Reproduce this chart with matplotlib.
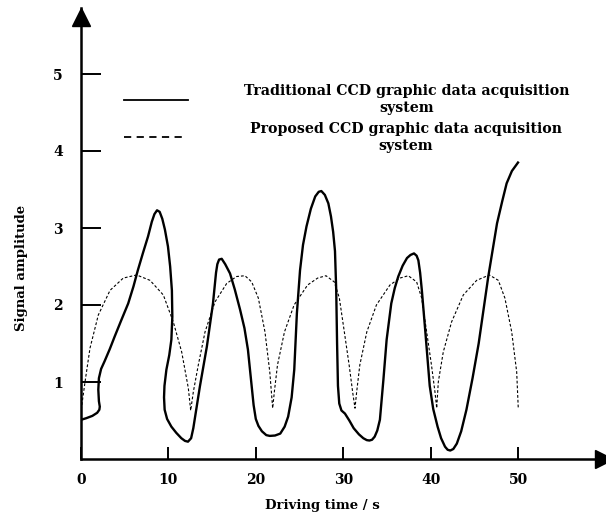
import matplotlib
matplotlib.use("Agg")
import matplotlib.pyplot as plt
from matplotlib.lines import Line2D

plt.rcParams['font.family'] = ['DejaVu Serif']
plt.rcParams['font.weight'] = 'bold'

# Traditional CCD system (solid)
trad_t = [0.03, 0.6, 1.3, 1.85, 2.1, 2.15, 2.05, 1.98, 2.05, 2.3, 2.7, 3.3, 3.85, 4.6, 5.4,
          6.0, 6.5, 7.1, 7.67, 8.1, 8.4, 8.7, 9.0, 9.3, 9.6, 9.95, 10.2, 10.4, 10.45,
          10.34, 10.1, 9.77, 9.55, 9.5, 9.57, 9.85, 10.34, 10.9, 11.48, 11.9, 12.24,
          12.6, 12.85, 13.2, 13.6, 14.0, 14.4, 15.1, 15.45, 15.6, 15.8, 16.1, 16.5,
          17.05, 17.6, 18.2, 18.7, 19.1, 19.5, 19.75, 20.0, 20.3, 20.7, 21.2, 21.6,
          22.2, 22.8, 23.3, 23.7, 24.1, 24.4, 24.7, 25.06, 25.4, 25.8, 26.3, 26.8,
          27.2, 27.5, 27.9, 28.3, 28.6, 28.85, 29.06, 29.2, 29.3, 29.4, 29.55, 29.8,
          30.2, 30.7, 31.2, 31.8, 32.3, 32.7, 33.0, 33.3, 33.6, 33.9, 34.2, 34.6,
          34.97, 35.5, 35.9, 36.3, 36.8, 37.3, 37.7, 38.1, 38.4, 38.6, 38.8, 39.0,
          39.4, 39.9, 40.3, 40.8, 41.2, 41.65, 41.95, 42.25, 42.6, 43.0, 43.5, 44.1,
          44.8, 45.5, 46.6, 47.6, 48.2, 48.7, 49.3, 50.0]
trad_v = [0.51, 0.53, 0.56, 0.6, 0.64, 0.68, 0.75, 0.9, 1.05, 1.17, 1.27, 1.43, 1.59, 1.8, 2.02,
          2.24, 2.45, 2.68, 2.89, 3.08, 3.18, 3.23, 3.21, 3.12, 2.98, 2.76, 2.5, 2.19, 1.85,
          1.55, 1.35, 1.16, 0.95, 0.8, 0.64, 0.52, 0.42, 0.34, 0.27, 0.235, 0.225,
          0.27, 0.4, 0.65, 0.94, 1.2, 1.46, 2.02, 2.42, 2.53, 2.59, 2.6, 2.53,
          2.41, 2.2, 1.94, 1.7, 1.42, 0.98, 0.7, 0.52, 0.43, 0.36, 0.31, 0.30,
          0.305, 0.33, 0.42, 0.55, 0.8, 1.16, 1.89, 2.45, 2.78, 3.02, 3.25, 3.41,
          3.47, 3.48, 3.43, 3.32, 3.15, 2.95, 2.7, 2.2, 1.5, 0.95, 0.72, 0.63,
          0.59, 0.5, 0.40, 0.32, 0.27, 0.245, 0.24, 0.25, 0.29, 0.37, 0.51, 1.03,
          1.55, 2.02, 2.22, 2.37, 2.51, 2.61, 2.65, 2.67, 2.64, 2.58, 2.42, 2.19,
          1.65, 0.95, 0.65, 0.42, 0.27, 0.16, 0.12, 0.11, 0.13, 0.2, 0.36, 0.64,
          1.05, 1.5, 2.37, 3.06, 3.35, 3.58, 3.74, 3.85]

# Proposed CCD system (dashed)
prop_t = [0.02, 0.46, 1.03, 1.98, 3.32, 4.84, 6.37, 7.9, 9.42, 10.56, 11.52, 12.28, 12.55,
          12.85, 13.42, 14.19, 15.33, 16.67, 17.8, 18.76, 19.53, 20.29, 21.05, 21.6, 21.93,
          22.12, 22.48, 23.28, 24.38, 25.93, 27.08, 28.03, 28.98, 29.56, 30.13, 30.68, 31.08, 31.35,
          31.54, 31.9, 32.7, 33.8, 35.35, 36.5, 37.45, 38.4, 38.98, 39.55, 40.1, 40.5, 40.7,
          40.88, 41.45, 42.4, 43.74, 45.27, 46.72, 47.75, 48.5, 49.28, 49.85, 50.03]
prop_v = [0.64, 1.0, 1.44, 1.87, 2.19, 2.35, 2.39, 2.32, 2.13, 1.78, 1.39, 0.92, 0.63,
          0.87, 1.22, 1.65, 2.04, 2.28, 2.37, 2.38, 2.3, 2.09, 1.65, 1.13, 0.66,
          0.87, 1.22, 1.65, 2.0, 2.26, 2.35, 2.38, 2.3, 2.09, 1.65, 1.22, 0.87, 0.66,
          0.87, 1.22, 1.65, 2.0, 2.26, 2.35, 2.38, 2.3, 2.09, 1.65, 1.22, 0.87, 0.66,
          1.0, 1.39, 1.78, 2.13, 2.32, 2.39, 2.32, 2.09, 1.65, 1.13, 0.66]

xticks = [0, 10, 20, 30, 40, 50]
yticks = [1, 2, 3, 4, 5]

W, H = 606, 517
fig = plt.figure(figsize=(W / 100, H / 100), dpi=100)
ax = fig.add_axes([81 / W, 1 - 459 / H, 524.4 / W, 451 / H])

ax.plot(trad_t, trad_v, color='black', lw=1.7, solid_joinstyle='round')
ax.plot(prop_t, prop_v, color='black', lw=0.8, dashes=(2.5, 1.8))

ax.set_xlim(0, 60)
ax.set_ylim(0, 451 / 77)
for s in ['top', 'right']:
    ax.spines[s].set_visible(False)
for s in ['left', 'bottom']:
    ax.spines[s].set_linewidth(1.8)

ax.set_xticks(xticks)
ax.set_yticks(yticks)
ax.tick_params(axis='y', direction='in', length=14.4, width=1.4, pad=13, labelsize=10)
ax.tick_params(axis='x', direction='in', length=9, width=1.4, pad=10, labelsize=10)

# arrow heads
ax.plot(0, 442 / 77, marker='^', color='black', ms=13, clip_on=False)
ax.plot(59.8, 0, marker='>', color='black', ms=13, clip_on=False)

ax.set_xlabel('Driving time / s', fontsize=9.5, fontweight='bold', va='center')
ax.set_ylabel('Signal amplitude', fontsize=9.5, fontweight='bold', va='center')
ax.xaxis.set_label_coords((322 - 81) / 524.4, (459 - 505) / 451)
ax.yaxis.set_label_coords((22 - 81) / 524.4, (459 - 268) / 451)

# legend
fig.add_artist(Line2D([124 / W, 188 / W], [1 - 100 / H, 1 - 100 / H], color='black', lw=1.3))
fig.add_artist(Line2D([124 / W, 186 / W], [1 - 137 / H, 1 - 137 / H], color='black', lw=1.3,
                      dashes=(4, 3)))
fig.text(407 / W, 1 - 99.5 / H, 'Traditional CCD graphic data acquisition\nsystem',
         ha='center', va='center', fontsize=10.2, fontweight='bold', linespacing=1.2)
fig.text(406 / W, 1 - 137.5 / H, 'Proposed CCD graphic data acquisition\nsystem',
         ha='center', va='center', fontsize=10.2, fontweight='bold', linespacing=1.35)

fig.savefig('out.png', dpi=100)
